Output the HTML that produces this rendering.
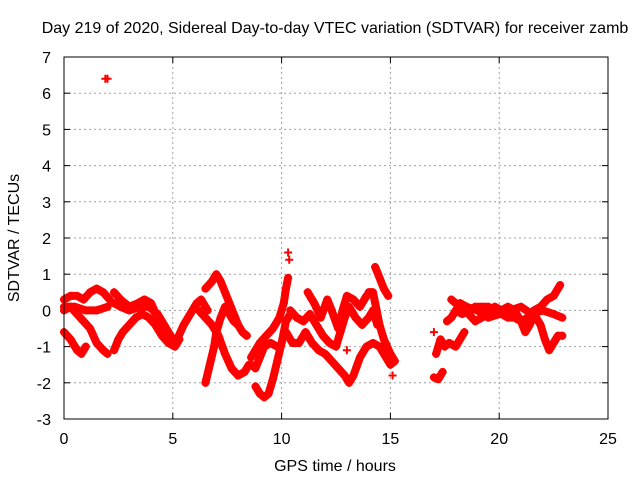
<!DOCTYPE html>
<html><head><meta charset="utf-8"><style>
html,body{margin:0;padding:0;background:#fff}
svg text{font-family:"Liberation Sans",sans-serif;font-size:16px;fill:#000}
</style></head><body>
<svg id="chart" width="640" height="480" xmlns="http://www.w3.org/2000/svg">
<rect width="640" height="480" fill="#fff"/>
<text x="335" y="33" text-anchor="middle">Day 219 of 2020, Sidereal Day-to-day VTEC variation (SDTVAR) for receiver zamb</text>
<text x="335" y="471" text-anchor="middle">GPS time / hours</text>
<text transform="translate(19,238) rotate(-90)" text-anchor="middle">SDTVAR / TECUs</text>
<g id="grid"></g><g id="ticks"></g><g id="marks"></g>
<rect x="64" y="57" width="544" height="362" fill="none" stroke="#000" stroke-width="1"/>
</svg>
<script>
const xTicks=[0,5,10,15,20,25];
const yTicks=[-3,-2,-1,0,1,2,3,4,5,6,7];
const trackA=[[0,0.3],[0.3,0.4],[0.6,0.4],[0.9,0.3],[1.2,0.5],[1.5,0.6],[1.8,0.5],[2.1,0.3]];
const trackB=[[0,0],[0.3,0.1],[0.6,-0.1],[0.9,-0.3],[1.2,-0.5],[1.5,-0.9],[1.8,-1.1],[2.0,-1.2]];
const trackC=[[0,-0.6],[0.3,-0.8],[0.6,-1.1],[0.8,-1.2],[1.0,-1.0]];
const trackD=[[0,0.1],[0.5,0.1],[1.0,0.0],[1.5,0.0],[2.0,0.1]];
const trackE=[[2.3,0.5],[2.6,0.3],[3.0,0.1],[3.4,0.2],[3.7,0.3],[4.0,0.2],[4.3,-0.2],[4.6,-0.6],[4.9,-0.9],[5.2,-0.8],[5.5,-0.4],[5.8,-0.1],[6.1,0.2],[6.3,0.3],[6.6,0.0]];
const trackF=[[2.3,-1.1],[2.5,-0.8],[2.7,-0.6],[3.0,-0.4],[3.3,-0.2],[3.6,-0.1],[3.9,-0.2],[4.2,-0.4],[4.5,-0.7],[4.8,-0.9],[5.1,-1.0],[5.3,-0.8]];
const trackG=[[2.3,0.2],[2.6,0.1],[3.0,0.0],[3.5,0.1],[3.9,0.1],[4.3,-0.1],[4.7,-0.5],[5.0,-0.8]];
const trackH=[[6.5,0.6],[6.8,0.8],[7.0,1.0],[7.2,0.8],[7.4,0.5],[7.6,0.2],[7.8,-0.1],[8.0,-0.4],[8.2,-0.6],[8.4,-0.7]];
const trackJ=[[6.2,0.0],[6.5,-0.2],[6.8,-0.4],[7.1,-0.7],[7.4,-1.2],[7.7,-1.6],[8.0,-1.8],[8.3,-1.7],[8.5,-1.5]];
const trackK=[[6.5,-2.0],[6.7,-1.5],[6.9,-1.0],[7.0,-0.6],[7.2,-0.2],[7.4,0.1],[7.6,-0.1],[7.8,-0.3],[8.0,-0.4]];
const trackL=[[8.6,-1.3],[8.8,-1.1],[9.0,-0.9],[9.3,-0.7],[9.6,-0.5],[9.9,-0.2],[10.1,0.2],[10.2,0.6],[10.3,0.9]];
const trackM=[[8.8,-2.1],[9.0,-2.3],[9.2,-2.4],[9.4,-2.3],[9.6,-1.9],[9.8,-1.4],[10.0,-0.9],[10.2,-0.3],[10.4,-0.1]];
const trackN=[[8.6,-1.5],[8.8,-1.6],[9.0,-1.3],[9.2,-1.0],[9.5,-0.9],[9.8,-1.0]];
const trackO=[[10.2,-0.6],[10.5,-0.9],[10.8,-0.9],[11.1,-0.6],[11.4,-0.9],[11.7,-1.1],[12.0,-1.2],[12.3,-1.4],[12.6,-1.6],[12.9,-1.8],[13.1,-2.0],[13.3,-1.8],[13.6,-1.3],[13.9,-1.0],[14.2,-0.9],[14.5,-1.0],[14.8,-1.3],[15.0,-1.5],[15.2,-1.4]];
const trackP=[[10.4,0.0],[10.7,-0.2],[11.0,-0.3],[11.3,-0.1],[11.6,-0.4],[11.9,-0.7],[12.2,-0.9],[12.5,-1.0],[12.7,-0.6],[12.9,-0.2],[13.1,0.1],[13.4,-0.2],[13.7,-0.4],[14.0,-0.2],[14.2,0.0],[14.4,-0.4]];
const trackQ=[[11.2,0.5],[11.5,0.2],[11.8,-0.2],[12.1,0.3],[12.3,0.0],[12.6,-0.5],[12.8,0.0],[13.0,0.4],[13.3,0.3],[13.6,0.1],[13.9,0.4],[14.1,0.5]];
const trackR=[[14.3,1.2],[14.5,0.9],[14.7,0.6],[14.9,0.4]];
const trackS=[[14.0,0.5],[14.2,0.5],[14.3,0.2],[14.5,-0.4],[14.7,-0.8],[15.0,-1.2],[15.2,-1.4]];
const trackT=[[17.1,-1.2],[17.3,-0.8],[17.5,-1.0],[17.7,-0.9],[18.0,-1.0],[18.2,-0.8],[18.4,-0.6]];
const trackT2=[[17.0,-1.85],[17.2,-1.9],[17.4,-1.7]];
const trackU=[[17.6,-0.3],[17.8,-0.2],[18.0,0.0],[18.3,-0.1],[18.6,0.0],[18.9,0.1],[19.2,0.1],[19.5,0.1],[19.8,0.0],[20.1,-0.1],[20.4,-0.2],[20.7,-0.2],[21.0,-0.3],[21.3,-0.2],[21.6,0.0],[21.9,0.1],[22.2,0.3],[22.5,0.4],[22.8,0.7]];
const trackV=[[17.8,0.3],[18.0,0.2],[18.3,0.0],[18.6,-0.1],[18.9,-0.3],[19.2,-0.2],[19.5,0.0],[19.8,0.1],[20.1,0.0],[20.4,0.1],[20.7,0.0],[21.0,-0.3],[21.2,-0.6],[21.4,-0.4],[21.6,-0.1],[21.9,-0.4],[22.1,-0.8],[22.3,-1.1],[22.5,-0.9],[22.7,-0.7],[22.9,-0.7]];
const trackW=[[18.2,0.2],[18.5,0.1],[19.0,0.0],[19.5,-0.2],[20.0,-0.1],[20.5,0.0],[21.0,0.1],[21.5,-0.1],[22.0,0.0],[22.5,-0.1],[22.9,-0.2]];
const isolated=[[1.9,6.4],[2.0,6.4],[10.3,1.6],[10.35,1.4],[15.1,-1.8],[17.0,-0.6],[13.0,-1.1]];
const tracks=[trackA,trackB,trackC,trackD,trackE,trackF,trackG,trackH,trackJ,trackK,trackL,trackM,trackN,trackO,trackP,trackQ,trackR,trackS,trackT,trackT2,trackU,trackV,trackW];

const X0=64,X1=608,Y0=419,Y1=57,XMIN=0,XMAX=25,YMIN=-3,YMAX=7;
function xs(v){return X0+(v-XMIN)/(XMAX-XMIN)*(X1-X0);}
function ys(v){return Y0-(v-YMIN)/(YMAX-YMIN)*(Y0-Y1);}
const NS="http://www.w3.org/2000/svg";
const grid=document.getElementById('grid'),ticks=document.getElementById('ticks'),marks=document.getElementById('marks');
function mk(t,a,p){const e=document.createElementNS(NS,t);for(const k in a)e.setAttribute(k,a[k]);p.appendChild(e);return e;}
xTicks.forEach(v=>{
  const x=xs(v);
  if(v>XMIN&&v<XMAX){const g=mk('line',{x1:x,x2:x,y1:Y0,y2:Y1,stroke:'#a0a0a0','stroke-dasharray':'2,3'},grid);
  
  }
  mk('line',{x1:x,x2:x,y1:Y0,y2:Y0-6,stroke:'#000'},ticks);
  mk('line',{x1:x,x2:x,y1:Y1,y2:Y1+6,stroke:'#000'},ticks);
  const t=mk('text',{x:x,y:444,'text-anchor':'middle'},ticks);t.textContent=v;
  
  
});
yTicks.forEach(v=>{
  const y=ys(v);
  if(v>YMIN&&v<YMAX){const g=mk('line',{x1:X0,x2:X1,y1:y,y2:y,stroke:'#a0a0a0','stroke-dasharray':'2,3'},grid);
  
  }
  mk('line',{x1:X0,x2:X0+6,y1:y,y2:y,stroke:'#000'},ticks);
  mk('line',{x1:X1,x2:X1-6,y1:y,y2:y,stroke:'#000'},ticks);
  const t=mk('text',{x:51,y:y+6,'text-anchor':'end'},ticks);t.textContent=v;
  
  
});
function plus(p,parent){
  const x=xs(p[0]),y=ys(p[1]);
  const e=mk('path',{d:`M${x-4},${y}h8M${x},${y-4}v8`,stroke:'#f00','stroke-width':2,fill:'none'},parent);
  
  
}
tracks.forEach(tr=>{
  const g=mk('g',{},marks);
  
  
  const pl=mk('polyline',{points:tr.map(p=>xs(p[0])+','+ys(p[1])).join(' '),fill:'none',stroke:'#f00','stroke-width':8,'stroke-linejoin':'round','stroke-linecap':'round'},g);
  
  
  tr.forEach(p=>plus(p,g));
});
isolated.forEach(p=>plus(p,marks));
</script>
</body></html>
